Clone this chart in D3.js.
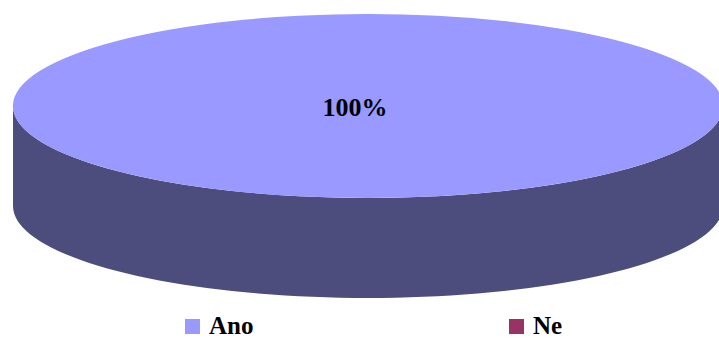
<!DOCTYPE html>
<html>
<head>
<meta charset="utf-8">
<script src="https://cdn.jsdelivr.net/npm/d3@7"></script>
<style>
  html, body { margin: 0; padding: 0; background: #fff; overflow: hidden; }
  text { font-family: "Liberation Serif", "Times New Roman", serif; font-weight: bold; fill: #000; }
</style>
</head>
<body>
<div id="graf"></div>
<script>
// datos
const categorias = ["Ano", "Ne"]
const valores = [100, 0]
const colores = ["#9999FF", "#993366"]
const coloresLado = ["#4C4C7D", "#4D1A33"]

const ancho = 719, alto = 340

// geometria del pastel 3D
const cx = 368, cy = 106
const rx = 355, ry = 92
const prof = 100

const svg = d3.select("#graf")
  .append("svg")
  .attr("width", ancho)
  .attr("height", alto)

const g = svg.append("g")

const datos = categorias.map((c, i) => ({ cat: c, val: valores[i], i: i }))

const pie = d3.pie().sort(null).value(d => d.val)
const arcos = pie(datos)
const total = d3.sum(valores)

// punto sobre la elipse para un angulo de d3 (0 = arriba, sentido horario)
const pt = (a, dy = 0) => [cx + rx * Math.sin(a), cy - ry * Math.cos(a) + dy]

// pared lateral: solo la parte visible (mitad de abajo)
const lado = (a0, a1) => {
  const s = Math.max(a0, Math.PI / 2)
  const e = Math.min(a1, Math.PI * 3 / 2)
  if (e <= s) return null
  const n = 80
  const arriba = d3.range(n + 1).map(k => pt(s + (e - s) * k / n))
  const abajo = d3.range(n + 1).map(k => pt(e - (e - s) * k / n, prof))
  return d3.line()(arriba.concat(abajo)) + "Z"
}

g.selectAll("path.lado")
  .data(arcos.filter(d => d.value > 0))
  .enter()
  .append("path")
  .attr("class", "lado")
  .attr("d", d => lado(d.startAngle, d.endAngle))
  .attr("fill", d => coloresLado[d.data.i])

// tapa superior (arco escalado en y)
const arco = d3.arc().innerRadius(0).outerRadius(rx)

g.selectAll("path.tapa")
  .data(arcos.filter(d => d.value > 0))
  .enter()
  .append("path")
  .attr("class", "tapa")
  .attr("d", arco)
  .attr("transform", `translate(${cx},${cy}) scale(1,${ry / rx})`)
  .attr("fill", d => colores[d.data.i])

// etiquetas de porcentaje
const arcoEtq = d3.arc().innerRadius(0).outerRadius(rx * 0.6)
g.selectAll("text.etq")
  .data(arcos.filter(d => d.value > 0))
  .enter()
  .append("text")
  .attr("class", "etq")
  .attr("text-anchor", "middle")
  .attr("font-size", 26)
  .attr("x", d => {
    if (d.endAngle - d.startAngle >= 2 * Math.PI - 1e-6) return cx - 13
    return cx + arcoEtq.centroid(d)[0]
  })
  .attr("y", d => {
    if (d.endAngle - d.startAngle >= 2 * Math.PI - 1e-6) return cy + 10
    return cy + arcoEtq.centroid(d)[1] * ry / rx + 8
  })
  .text(d => Math.round(d.value / total * 100) + "%")

// leyenda
const xLeyenda = d3.scalePoint().domain(categorias).range([185, 509])
const ley = svg.selectAll("g.ley")
  .data(categorias)
  .enter()
  .append("g")
  .attr("class", "ley")
  .attr("transform", d => `translate(${xLeyenda(d)}, 319)`)

ley.append("rect")
  .attr("width", 15)
  .attr("height", 15)
  .attr("fill", (d, i) => colores[i])

ley.append("text")
  .attr("x", 24)
  .attr("y", 15)
  .attr("font-size", 25)
  .text(d => d)
</script>
</body>
</html>
